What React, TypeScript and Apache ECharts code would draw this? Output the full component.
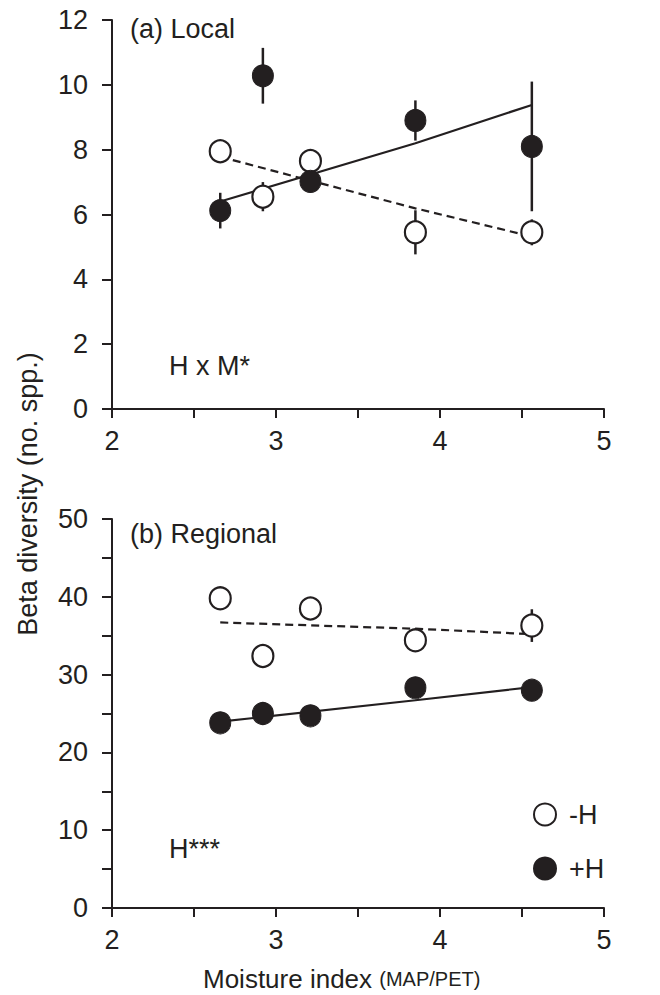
import React, { useEffect, useRef } from "react";
import * as echarts from "echarts";

// ---- data ----
const xVals = [2.66, 2.92, 3.21, 3.85, 4.56];

// (a) Local
const localMinusH = [7.95, 6.55, 7.65, 5.45, 5.45];
const localMinusHErr = [0.25, 0.45, 0.3, 0.68, 0.4];
const localPlusH = [6.12, 10.28, 7.02, 8.9, 8.1];
const localPlusHErr = [0.55, 0.86, 0.3, 0.62, 2.0];
const localFitX = [2.66, 3.85, 4.56];
const localFitMinusH = [7.78, 6.19, 5.32];
const localFitPlusH = [6.4, 8.2, 9.38];

// (b) Regional
const regMinusH = [39.8, 32.4, 38.5, 34.4, 36.3];
const regMinusHErr = [1.0, 1.5, 1.0, 1.4, 2.1];
const regPlusH = [23.8, 25.0, 24.7, 28.3, 28.0];
const regPlusHErr = [1.0, 1.0, 1.0, 1.0, 1.0];
const regFitX = [2.66, 3.85, 4.56];
const regFitMinusH = [36.7, 35.9, 35.2];
const regFitPlusH = [23.95, 26.7, 28.4];

const xTicks = { min: 2, max: 5, interval: 0.5 };
const yLocal = { min: 0, max: 12, interval: 2 };
const yRegional = { min: 0, max: 50, interval: 5 };

const INK = "#231f20";
const FONT = "Liberation Sans, Arial, sans-serif";
const FS = 27;

export default function App() {
  const ref = useRef<HTMLDivElement>(null);
  useEffect(() => {
    if (!ref.current) return;
    const chart = echarts.init(ref.current, null, { renderer: "svg" });

    const errData = (v: number[], e: number[]) =>
      xVals.map((x, i) => [x, v[i] - e[i], v[i] + e[i]]);
    const pts = (v: number[]) => xVals.map((x, i) => [x, v[i]]);
    const fit = (xs: number[], v: number[]) => xs.map((x, i) => [x, v[i]]);

    const errSeries = (idx: number, data: number[][]) => ({
      type: "custom",
      xAxisIndex: idx,
      yAxisIndex: idx,
      z: 1,
      silent: true,
      data,
      encode: { x: 0, y: [1, 2] },
      renderItem: (_p: any, api: any) => {
        const a = api.coord([api.value(0), api.value(1)]);
        const b = api.coord([api.value(0), api.value(2)]);
        return {
          type: "line",
          shape: { x1: a[0], y1: a[1], x2: b[0], y2: b[1] },
          style: { stroke: INK, lineWidth: 2.5 },
        };
      },
    });

    const fitSeries = (idx: number, data: number[][], dashed: boolean) => ({
      type: "line",
      xAxisIndex: idx,
      yAxisIndex: idx,
      z: 2,
      silent: true,
      symbol: "none",
      data,
      lineStyle: { color: INK, width: 2.2, type: dashed ? [8, 5] : "solid", opacity: 1 },
    });

    const openSeries = (idx: number, data: number[][]) => ({
      name: "-H",
      type: "scatter",
      xAxisIndex: idx,
      yAxisIndex: idx,
      z: 3,
      symbol: "circle",
      symbolSize: [21, 22],
      data,
      itemStyle: { color: "#ffffff", borderColor: INK, borderWidth: 2.2, opacity: 1 },
    });
    const filledSeries = (idx: number, data: number[][]) => ({
      name: "+H",
      type: "scatter",
      xAxisIndex: idx,
      yAxisIndex: idx,
      z: 3,
      symbol: "circle",
      symbolSize: [21, 22],
      data,
      itemStyle: { color: INK, borderColor: INK, borderWidth: 1, opacity: 1 },
    });

    const xAxis = (idx: number) => ({
      type: "value",
      gridIndex: idx,
      ...xTicks,
      axisLine: { show: true, lineStyle: { color: INK, width: 2 } },
      axisTick: { show: true, inside: false, length: 9, lineStyle: { color: INK, width: 2 } },
      axisLabel: {
        show: true,
        margin: 18,
        color: INK,
        fontSize: FS,
        fontFamily: FONT,
        showMinLabel: true,
        showMaxLabel: true,
        formatter: (v: number) => (Number.isInteger(v) ? String(v) : ""),
      },
      splitLine: { show: false },
    });

    const yAxis = (idx: number, cfg: any, labelStep: number) => ({
      type: "value",
      gridIndex: idx,
      ...cfg,
      axisLine: { show: true, onZero: false, lineStyle: { color: INK, width: 2 } },
      axisTick: { show: true, inside: false, length: 10, lineStyle: { color: INK, width: 2 } },
      axisLabel: {
        show: true,
        margin: 24,
        color: INK,
        fontSize: FS,
        fontFamily: FONT,
        showMinLabel: true,
        showMaxLabel: true,
        formatter: (v: number) =>
          Math.abs(v / labelStep - Math.round(v / labelStep)) < 1e-9 ? String(v) : "",
      },
      splitLine: { show: false },
    });

    const txt = (x: number, y: number, text: string, extra: any = {}) => ({
      type: "text",
      x,
      y,
      style: {
        text,
        fill: INK,
        font: `${FS}px ${FONT}`,
        textAlign: "left",
        textVerticalAlign: "middle",
        ...extra,
      },
    });

    chart.setOption({
      animation: false,
      backgroundColor: "#ffffff",
      grid: [
        { left: 112, top: 20, width: 492, height: 389 },
        { left: 112, top: 519, width: 492, height: 389 },
      ],
      xAxis: [xAxis(0), xAxis(1)],
      yAxis: [yAxis(0, yLocal, 2), yAxis(1, yRegional, 10)],
      legend: {
        data: ["-H", "+H"],
        orient: "vertical",
        left: 528,
        top: 796,
        itemWidth: 22,
        itemHeight: 22,
        itemGap: 27,
        selectedMode: false,
        icon: "circle",
        textStyle: { color: INK, fontSize: FS, fontFamily: FONT, padding: [0, 0, 0, 8] },
      },
      graphic: [
        txt(130, 29, "(a) Local"),
        txt(130, 534, "(b) Regional"),
        txt(169, 366, "H x M*"),
        txt(169, 849, "H***"),
        {
          type: "text",
          x: 28,
          y: 494,
          rotation: Math.PI / 2,
          style: {
            text: "Beta diversity (no. spp.)",
            fill: INK,
            font: `${FS}px ${FONT}`,
            textAlign: "center",
            textVerticalAlign: "middle",
          },
        },
        {
          type: "text",
          x: 203,
          y: 979,
          style: {
            text: "{a|Moisture index }{b|(MAP/PET)}",
            textVerticalAlign: "middle",
            rich: {
              a: { fontSize: 26, fontFamily: FONT, fill: INK, color: INK },
              b: { fontSize: 20, fontFamily: FONT, fill: INK, color: INK },
            },
          },
        },
      ],
      series: [
        errSeries(0, errData(localMinusH, localMinusHErr)),
        errSeries(0, errData(localPlusH, localPlusHErr)),
        fitSeries(0, fit(localFitX, localFitMinusH), true),
        fitSeries(0, fit(localFitX, localFitPlusH), false),
        openSeries(0, pts(localMinusH)),
        filledSeries(0, pts(localPlusH)),
        errSeries(1, errData(regMinusH, regMinusHErr)),
        errSeries(1, errData(regPlusH, regPlusHErr)),
        fitSeries(1, fit(regFitX, regFitMinusH), true),
        fitSeries(1, fit(regFitX, regFitPlusH), false),
        openSeries(1, pts(regMinusH)),
        filledSeries(1, pts(regPlusH)),
      ],
    });
    return () => chart.dispose();
  }, []);
  return (
    <div
      ref={ref}
      style={{ position: "fixed", left: 0, top: 0, width: 660, height: 995, background: "#fff" }}
    />
  );
}
